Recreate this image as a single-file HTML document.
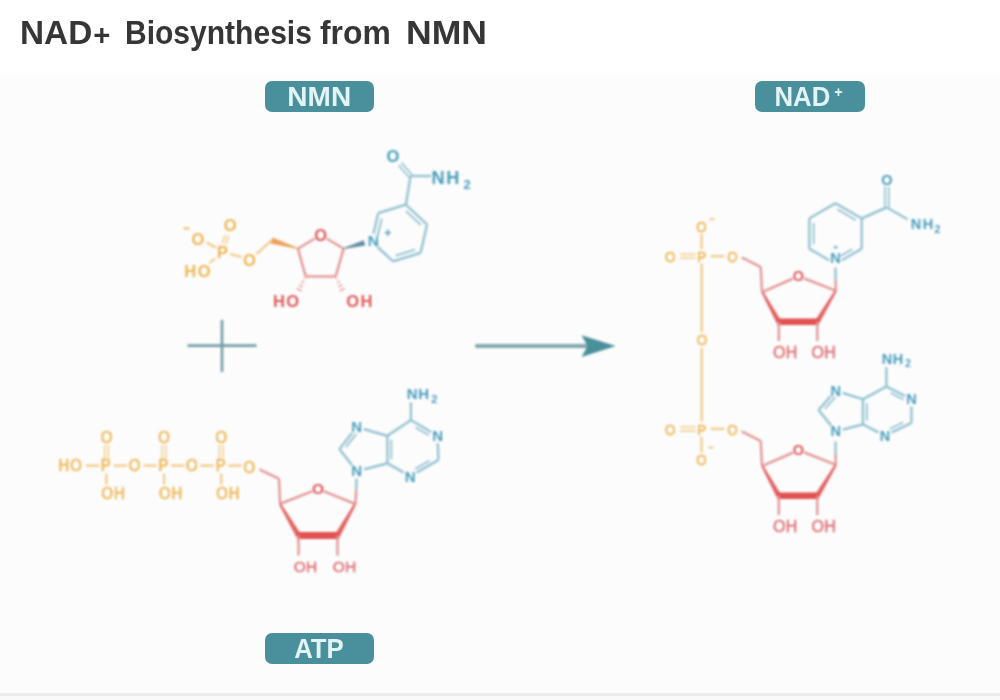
<!DOCTYPE html>
<html><head><meta charset="utf-8"><style>
html,body{margin:0;padding:0;width:1000px;height:700px;overflow:hidden;background:#fff}
body{position:relative;font-family:"Liberation Sans",sans-serif}
.tw{position:absolute;top:14.6px;font-size:33px;line-height:36px;font-weight:bold;color:#363636;white-space:nowrap;transform-origin:0 0;filter:blur(0.6px)}
.panel{position:absolute;left:0;top:70px;width:1000px;height:624px;background:linear-gradient(#fff 0px,#fcfcfc 8px,#fcfcfc)}
.below{position:absolute;left:0;top:694px;width:1000px;height:6px;background:#f9f9f9}
.foot{position:absolute;left:0;top:693px;width:1000px;height:2.5px;background:#ececed;filter:blur(0.5px)}
.pill{position:absolute;height:30.5px;width:109.5px;background:#4a8f9c;border-radius:7px;color:#e2f4f6;font-weight:bold;font-size:28px;text-align:center;line-height:31px;letter-spacing:0px;filter:blur(0.35px)}
svg{position:absolute;left:0;top:0}
svg text{font-family:"Liberation Sans",sans-serif}
</style></head><body>
<div class="panel"></div>
<div class="below"></div>
<div class="foot"></div>
<div class="tw" style="left:20.2px;transform:scaleX(1.01)">NAD<span style="position:relative;top:1.5px;font-size:29px;margin-left:1px">+</span></div><div class="tw" style="left:124.6px;transform:scaleX(0.91)">Biosynthesis</div><div class="tw" style="left:320.4px;transform:scaleX(0.965)">from</div><div class="tw" style="left:405.5px;transform:scaleX(1.077)">NMN</div>
<div class="pill" style="left:264.5px;top:81.2px">NMN</div>
<div class="pill" style="left:755px;top:81.2px"><span style="display:inline-block;transform:scaleX(0.92);margin-left:-5px">NAD</span><span style="display:inline-block;font-size:14px;vertical-align:9px;line-height:0;margin-left:1.5px;font-weight:bold">+</span></div>
<div class="pill" style="left:264.5px;top:633px"><span style="display:inline-block;transform:scaleX(0.92)">ATP</span></div>
<svg width="1000" height="700" viewBox="0 0 1000 700">
<defs><filter id="b" x="-5%" y="-5%" width="110%" height="110%"><feGaussianBlur stdDeviation="0.95"/></filter></defs>
<g filter="url(#b)">
<text x="197.8" y="244.5" fill="#efb552" font-size="16.5" font-weight="bold" text-anchor="middle">O</text>
<line x1="183.5" y1="228.5" x2="189.5" y2="228.5" stroke="#efb552" stroke-width="1.8"/>
<text x="230.2" y="230.5" fill="#efb552" font-size="16.5" font-weight="bold" text-anchor="middle">O</text>
<text x="222.4" y="257.5" fill="#efb552" font-size="16.5" font-weight="bold" text-anchor="middle">P</text>
<text x="198.2" y="276.5" fill="#efb552" font-size="16.5" font-weight="bold" text-anchor="middle" letter-spacing="1.5">HO</text>
<text x="249.4" y="266.0" fill="#efb552" font-size="16.5" font-weight="bold" text-anchor="middle">O</text>
<line x1="206.8" y1="242.6" x2="216.0" y2="247.8" stroke="#f2c983" stroke-width="2.25"/>
<line x1="225.7" y1="244.6" x2="228.7" y2="236.1" stroke="#f2c983" stroke-width="1.5"/>
<line x1="222.3" y1="243.4" x2="225.3" y2="234.9" stroke="#f2c983" stroke-width="1.5"/>
<line x1="215.0" y1="258.5" x2="209.6" y2="263.0" stroke="#f2c983" stroke-width="2.25"/>
<line x1="230.0" y1="254.0" x2="241.6" y2="257.0" stroke="#f2c983" stroke-width="2.25"/>
<line x1="256.5" y1="254.0" x2="271.5" y2="240.5" stroke="#f2c983" stroke-width="2.25"/>
<polygon points="298.0,248.1 272.5,237.4 270.5,243.6 297.8,249.1" fill="#eba05c"/>
<line x1="297.9" y1="248.6" x2="314.7" y2="238.6" stroke="#e39090" stroke-width="2.25"/>
<line x1="326.7" y1="238.6" x2="343.6" y2="248.6" stroke="#e39090" stroke-width="2.25"/>
<line x1="297.9" y1="248.6" x2="305.7" y2="276.4" stroke="#e39090" stroke-width="2.25"/>
<line x1="305.7" y1="276.4" x2="335.7" y2="276.4" stroke="#e39090" stroke-width="2.25"/>
<line x1="335.7" y1="276.4" x2="343.6" y2="248.6" stroke="#e39090" stroke-width="2.25"/>
<text x="320.7" y="240.5" fill="#e05a5c" font-size="16.5" font-weight="bold" text-anchor="middle">O</text>
<line x1="305.5" y1="278.6" x2="304.0" y2="277.9" stroke="#e39090" stroke-width="1.3"/>
<line x1="304.2" y1="282.7" x2="301.6" y2="281.4" stroke="#e39090" stroke-width="1.3"/>
<line x1="302.9" y1="286.7" x2="299.2" y2="284.9" stroke="#e39090" stroke-width="1.3"/>
<line x1="301.6" y1="290.8" x2="296.8" y2="288.4" stroke="#e39090" stroke-width="1.3"/>
<line x1="337.4" y1="277.9" x2="335.9" y2="278.6" stroke="#e39090" stroke-width="1.3"/>
<line x1="339.8" y1="281.4" x2="337.2" y2="282.7" stroke="#e39090" stroke-width="1.3"/>
<line x1="342.2" y1="284.9" x2="338.5" y2="286.7" stroke="#e39090" stroke-width="1.3"/>
<line x1="344.6" y1="288.4" x2="339.8" y2="290.8" stroke="#e39090" stroke-width="1.3"/>
<text x="286.8" y="307.2" fill="#e05a5c" font-size="16.5" font-weight="bold" text-anchor="middle" letter-spacing="1.5">HO</text>
<text x="360.1" y="307.2" fill="#e05a5c" font-size="16.5" font-weight="bold" text-anchor="middle" letter-spacing="1.5">OH</text>
<polygon points="343.7,249.1 365.2,245.4 363.8,240.2 343.5,248.1" fill="#5b8ca3"/>
<text x="373.3" y="246.3" fill="#4a9dbd" font-size="15.5" font-weight="bold" text-anchor="middle">N</text>
<text x="387.8" y="236.7" fill="#4a9dbd" font-size="13" font-weight="bold" text-anchor="middle">+</text>
<line x1="405.9" y1="204.7" x2="427.1" y2="224.5" stroke="#8dbfcf" stroke-width="2.25"/>
<line x1="427.1" y1="224.5" x2="420.6" y2="252.8" stroke="#8dbfcf" stroke-width="2.25"/>
<line x1="420.6" y1="252.8" x2="392.9" y2="261.3" stroke="#8dbfcf" stroke-width="2.25"/>
<line x1="392.9" y1="261.3" x2="377.5" y2="246.9" stroke="#8dbfcf" stroke-width="2.25"/>
<line x1="373.5" y1="233.7" x2="378.2" y2="213.2" stroke="#8dbfcf" stroke-width="2.25"/>
<line x1="378.2" y1="213.2" x2="405.9" y2="204.7" stroke="#8dbfcf" stroke-width="2.25"/>
<line x1="406.0" y1="211.1" x2="420.8" y2="224.9" stroke="#8dbfcf" stroke-width="1.8"/>
<line x1="415.1" y1="249.7" x2="395.7" y2="255.6" stroke="#8dbfcf" stroke-width="1.8"/>
<line x1="377.1" y1="238.3" x2="381.7" y2="218.5" stroke="#8dbfcf" stroke-width="1.8"/>
<line x1="405.9" y1="204.7" x2="410.5" y2="176.0" stroke="#8dbfcf" stroke-width="2.25"/>
<line x1="411.9" y1="174.7" x2="401.4" y2="162.7" stroke="#8dbfcf" stroke-width="1.6"/>
<line x1="409.1" y1="177.3" x2="398.6" y2="165.3" stroke="#8dbfcf" stroke-width="1.6"/>
<text x="393.0" y="161.6" fill="#4a9dbd" font-size="16.5" font-weight="bold" text-anchor="middle">O</text>
<line x1="410.5" y1="176.0" x2="431.0" y2="176.0" stroke="#8dbfcf" stroke-width="2.25"/>
<text x="431.5" y="184.0" fill="#4a9dbd" font-size="18.2" font-weight="bold" text-anchor="start" letter-spacing="1.6">NH</text>
<text x="467.0" y="188.9" fill="#4a9dbd" font-size="13" font-weight="bold" text-anchor="middle">2</text>
<line x1="187.5" y1="345.6" x2="256.5" y2="345.6" stroke="#6f9ca6" stroke-width="2.6"/>
<line x1="222.0" y1="320.0" x2="222.0" y2="372.0" stroke="#6f9ca6" stroke-width="2.6"/>
<line x1="475.3" y1="346.0" x2="588.0" y2="346.0" stroke="#80a7b0" stroke-width="4"/>
<polygon points="615.7,346.0 581.5,335.2 587.5,346.0 581.5,357.0" fill="#4a909a"/>
<text transform="translate(70.6,471.3) scale(0.9,1)" fill="#efb552" font-size="16.5" font-weight="normal" text-anchor="middle" stroke="#efb552" stroke-width="0.6" letter-spacing="1.0">HO</text>
<text transform="translate(105.8,471.3) scale(0.9,1)" fill="#efb552" font-size="16.5" font-weight="normal" text-anchor="middle" stroke="#efb552" stroke-width="0.6">P</text>
<text transform="translate(106.4,443.3) scale(0.9,1)" fill="#efb552" font-size="16.5" font-weight="normal" text-anchor="middle" stroke="#efb552" stroke-width="0.6">O</text>
<line x1="104.6" y1="444.8" x2="104.6" y2="458.6" stroke="#f2c983" stroke-width="1.4"/>
<line x1="108.2" y1="444.8" x2="108.2" y2="458.6" stroke="#f2c983" stroke-width="1.4"/>
<line x1="106.4" y1="473.6" x2="106.4" y2="484.6" stroke="#f2c983" stroke-width="2.25"/>
<text transform="translate(113.5,499.3) scale(0.9,1)" fill="#efb552" font-size="16.5" font-weight="normal" text-anchor="middle" stroke="#efb552" stroke-width="0.6" letter-spacing="1.0">OH</text>
<text transform="translate(163.4,471.3) scale(0.9,1)" fill="#efb552" font-size="16.5" font-weight="normal" text-anchor="middle" stroke="#efb552" stroke-width="0.6">P</text>
<text transform="translate(164.0,443.3) scale(0.9,1)" fill="#efb552" font-size="16.5" font-weight="normal" text-anchor="middle" stroke="#efb552" stroke-width="0.6">O</text>
<line x1="162.2" y1="444.8" x2="162.2" y2="458.6" stroke="#f2c983" stroke-width="1.4"/>
<line x1="165.8" y1="444.8" x2="165.8" y2="458.6" stroke="#f2c983" stroke-width="1.4"/>
<line x1="164.0" y1="473.6" x2="164.0" y2="484.6" stroke="#f2c983" stroke-width="2.25"/>
<text transform="translate(171.1,499.3) scale(0.9,1)" fill="#efb552" font-size="16.5" font-weight="normal" text-anchor="middle" stroke="#efb552" stroke-width="0.6" letter-spacing="1.0">OH</text>
<text transform="translate(220.6,471.3) scale(0.9,1)" fill="#efb552" font-size="16.5" font-weight="normal" text-anchor="middle" stroke="#efb552" stroke-width="0.6">P</text>
<text transform="translate(221.2,443.3) scale(0.9,1)" fill="#efb552" font-size="16.5" font-weight="normal" text-anchor="middle" stroke="#efb552" stroke-width="0.6">O</text>
<line x1="219.4" y1="444.8" x2="219.4" y2="458.6" stroke="#f2c983" stroke-width="1.4"/>
<line x1="223.0" y1="444.8" x2="223.0" y2="458.6" stroke="#f2c983" stroke-width="1.4"/>
<line x1="221.2" y1="473.6" x2="221.2" y2="484.6" stroke="#f2c983" stroke-width="2.25"/>
<text transform="translate(228.3,499.3) scale(0.9,1)" fill="#efb552" font-size="16.5" font-weight="normal" text-anchor="middle" stroke="#efb552" stroke-width="0.6" letter-spacing="1.0">OH</text>
<text transform="translate(134.6,471.3) scale(0.9,1)" fill="#efb552" font-size="16.5" font-weight="normal" text-anchor="middle" stroke="#efb552" stroke-width="0.6">O</text>
<text transform="translate(191.8,471.3) scale(0.9,1)" fill="#efb552" font-size="16.5" font-weight="normal" text-anchor="middle" stroke="#efb552" stroke-width="0.6">O</text>
<text transform="translate(249.3,472.9) scale(0.9,1)" fill="#efb552" font-size="16.5" font-weight="normal" text-anchor="middle" stroke="#efb552" stroke-width="0.6">O</text>
<line x1="86.0" y1="465.6" x2="99.2" y2="465.6" stroke="#f2c983" stroke-width="2.25"/>
<line x1="113.6" y1="465.6" x2="126.8" y2="465.6" stroke="#f2c983" stroke-width="2.25"/>
<line x1="143.6" y1="465.6" x2="156.8" y2="465.6" stroke="#f2c983" stroke-width="2.25"/>
<line x1="171.0" y1="465.6" x2="184.2" y2="465.6" stroke="#f2c983" stroke-width="2.25"/>
<line x1="200.4" y1="465.6" x2="213.6" y2="465.6" stroke="#f2c983" stroke-width="2.25"/>
<line x1="228.4" y1="465.6" x2="241.6" y2="465.6" stroke="#f2c983" stroke-width="2.25"/>
<line x1="259.5" y1="469.5" x2="279.0" y2="478.8" stroke="#e39090" stroke-width="2.25"/>
<line x1="279.0" y1="478.8" x2="280.0" y2="503.9" stroke="#e39090" stroke-width="2.25"/>
<line x1="280.0" y1="503.9" x2="312.4" y2="491.2" stroke="#e39090" stroke-width="2.25"/>
<line x1="323.6" y1="491.2" x2="355.1" y2="503.9" stroke="#e39090" stroke-width="2.25"/>
<text x="318.0" y="494.4" fill="#e05a5c" font-size="15.5" font-weight="bold" text-anchor="middle">O</text>
<polygon points="279.1,504.4 296.1,536.8 300.9,534.0 280.9,503.4" fill="#e36464"/>
<polygon points="354.2,503.4 335.1,534.0 339.9,536.8 356.0,504.4" fill="#e36464"/>
<line x1="296.8" y1="535.4" x2="339.2" y2="535.4" stroke="#e0514f" stroke-width="7"/>
<line x1="298.5" y1="535.4" x2="298.5" y2="555.5" stroke="#e39090" stroke-width="2.25"/>
<line x1="337.5" y1="535.4" x2="337.5" y2="555.5" stroke="#e39090" stroke-width="2.25"/>
<text x="305.6" y="572.0" fill="#df6f75" font-size="15.5" font-weight="normal" text-anchor="middle" stroke="#df6f75" stroke-width="0.45" letter-spacing="0.3">OH</text>
<text x="344.6" y="572.0" fill="#df6f75" font-size="15.5" font-weight="normal" text-anchor="middle" stroke="#df6f75" stroke-width="0.45" letter-spacing="0.3">OH</text>
<line x1="355.5" y1="503.9" x2="356.2" y2="490.0" stroke="#e39090" stroke-width="2.25"/>
<line x1="356.2" y1="490.0" x2="356.5" y2="478.5" stroke="#8dbfcf" stroke-width="2.25"/>
<line x1="352.1" y1="465.2" x2="339.4" y2="449.1" stroke="#8dbfcf" stroke-width="2.25"/>
<line x1="339.4" y1="449.1" x2="352.1" y2="433.0" stroke="#8dbfcf" stroke-width="2.25"/>
<line x1="345.9" y1="447.1" x2="356.3" y2="433.9" stroke="#8dbfcf" stroke-width="1.7"/>
<line x1="363.9" y1="429.1" x2="387.4" y2="435.8" stroke="#8dbfcf" stroke-width="2.25"/>
<line x1="387.4" y1="435.8" x2="387.4" y2="463.3" stroke="#8dbfcf" stroke-width="2.25"/>
<line x1="391.3" y1="439.9" x2="391.3" y2="459.2" stroke="#8dbfcf" stroke-width="1.7"/>
<line x1="387.4" y1="463.3" x2="364.0" y2="469.3" stroke="#8dbfcf" stroke-width="2.25"/>
<line x1="387.4" y1="463.3" x2="403.6" y2="472.6" stroke="#8dbfcf" stroke-width="2.25"/>
<line x1="416.6" y1="472.6" x2="438.4" y2="460.1" stroke="#8dbfcf" stroke-width="2.25"/>
<line x1="415.2" y1="468.9" x2="429.4" y2="460.8" stroke="#8dbfcf" stroke-width="1.7"/>
<line x1="438.4" y1="460.1" x2="437.8" y2="443.3" stroke="#8dbfcf" stroke-width="2.25"/>
<line x1="431.1" y1="432.0" x2="410.9" y2="420.1" stroke="#8dbfcf" stroke-width="2.25"/>
<line x1="428.9" y1="435.2" x2="415.6" y2="427.4" stroke="#8dbfcf" stroke-width="1.7"/>
<line x1="410.9" y1="420.1" x2="387.4" y2="435.8" stroke="#8dbfcf" stroke-width="2.25"/>
<line x1="410.9" y1="420.1" x2="410.9" y2="402.4" stroke="#8dbfcf" stroke-width="2.25"/>
<text x="356.7" y="476.3" fill="#4a9dbd" font-size="15" font-weight="bold" text-anchor="middle">N</text>
<text x="356.7" y="432.3" fill="#4a9dbd" font-size="15" font-weight="bold" text-anchor="middle">N</text>
<text x="410.1" y="481.5" fill="#4a9dbd" font-size="15" font-weight="bold" text-anchor="middle">N</text>
<text x="437.6" y="441.0" fill="#4a9dbd" font-size="15" font-weight="bold" text-anchor="middle">N</text>
<text x="418.3" y="399.4" fill="#4a9dbd" font-size="15" font-weight="bold" text-anchor="middle" letter-spacing="0.6">NH</text>
<text x="434.4" y="402.7" fill="#4a9dbd" font-size="11" font-weight="bold" text-anchor="middle">2</text>
<text transform="translate(670.2,262.0) scale(0.86,1)" fill="#efb552" font-size="15.5" font-weight="normal" text-anchor="middle" stroke="#efb552" stroke-width="0.55">O</text>
<line x1="680.1" y1="258.1" x2="695.7" y2="258.1" stroke="#f2c983" stroke-width="1.5"/>
<line x1="680.1" y1="254.3" x2="695.7" y2="254.3" stroke="#f2c983" stroke-width="1.5"/>
<text transform="translate(701.8,262.0) scale(0.86,1)" fill="#efb552" font-size="15.5" font-weight="normal" text-anchor="middle" stroke="#efb552" stroke-width="0.55">P</text>
<line x1="710.6" y1="256.2" x2="724.2" y2="256.2" stroke="#f2c983" stroke-width="2.25"/>
<text transform="translate(732.5,262.0) scale(0.86,1)" fill="#efb552" font-size="15.5" font-weight="normal" text-anchor="middle" stroke="#efb552" stroke-width="0.55">O</text>
<text transform="translate(701.5,232.1) scale(0.86,1)" fill="#efb552" font-size="15.5" font-weight="normal" text-anchor="middle" stroke="#efb552" stroke-width="0.55">O</text>
<line x1="701.5" y1="234.2" x2="701.5" y2="249.1" stroke="#f2c983" stroke-width="2.25"/>
<line x1="709.5" y1="219.2" x2="714.5" y2="219.2" stroke="#efb552" stroke-width="1.4"/>
<text transform="translate(670.2,434.7) scale(0.86,1)" fill="#efb552" font-size="15.5" font-weight="normal" text-anchor="middle" stroke="#efb552" stroke-width="0.55">O</text>
<line x1="680.1" y1="430.8" x2="695.7" y2="430.8" stroke="#f2c983" stroke-width="1.5"/>
<line x1="680.1" y1="427.0" x2="695.7" y2="427.0" stroke="#f2c983" stroke-width="1.5"/>
<text transform="translate(701.8,434.7) scale(0.86,1)" fill="#efb552" font-size="15.5" font-weight="normal" text-anchor="middle" stroke="#efb552" stroke-width="0.55">P</text>
<line x1="710.6" y1="428.9" x2="724.2" y2="428.9" stroke="#f2c983" stroke-width="2.25"/>
<text transform="translate(732.5,434.7) scale(0.86,1)" fill="#efb552" font-size="15.5" font-weight="normal" text-anchor="middle" stroke="#efb552" stroke-width="0.55">O</text>
<text transform="translate(701.5,465.4) scale(0.86,1)" fill="#efb552" font-size="15.5" font-weight="normal" text-anchor="middle" stroke="#efb552" stroke-width="0.55">O</text>
<line x1="701.5" y1="436.8" x2="701.5" y2="452.5" stroke="#f2c983" stroke-width="2.25"/>
<line x1="708.5" y1="447.5" x2="713.5" y2="447.5" stroke="#efb552" stroke-width="1.4"/>
<text transform="translate(701.9,344.7) scale(0.86,1)" fill="#efb552" font-size="15.5" font-weight="normal" text-anchor="middle" stroke="#efb552" stroke-width="0.55">O</text>
<line x1="701.7" y1="263.5" x2="701.7" y2="332.0" stroke="#f2c983" stroke-width="2.25"/>
<line x1="701.7" y1="348.0" x2="701.7" y2="421.5" stroke="#f2c983" stroke-width="2.25"/>
<line x1="741.8" y1="257.6" x2="760.7" y2="267.0" stroke="#e39090" stroke-width="2.25"/>
<line x1="760.7" y1="267.0" x2="762.0" y2="292.0" stroke="#e39090" stroke-width="2.25"/>
<line x1="762.3" y1="292.0" x2="793.0" y2="278.6" stroke="#e39090" stroke-width="2.25"/>
<line x1="804.1" y1="278.4" x2="835.8" y2="290.8" stroke="#e39090" stroke-width="2.25"/>
<text x="798.5" y="281.2" fill="#e05a5c" font-size="14.5" font-weight="bold" text-anchor="middle">O</text>
<polygon points="761.4,292.5 776.5,323.1 781.1,320.5 763.2,291.5" fill="#e36464"/>
<polygon points="834.9,290.3 815.1,320.5 819.5,323.1 836.7,291.3" fill="#e36464"/>
<line x1="777.2" y1="321.8" x2="818.9" y2="321.8" stroke="#e0514f" stroke-width="6.5"/>
<line x1="778.8" y1="321.8" x2="778.8" y2="341.0" stroke="#e39090" stroke-width="2.25"/>
<line x1="817.3" y1="321.8" x2="817.3" y2="341.0" stroke="#e39090" stroke-width="2.25"/>
<text x="785.4" y="357.5" fill="#df6f75" font-size="16" font-weight="normal" text-anchor="middle" stroke="#df6f75" stroke-width="0.45" letter-spacing="0.3">OH</text>
<text x="823.9" y="357.5" fill="#df6f75" font-size="16" font-weight="normal" text-anchor="middle" stroke="#df6f75" stroke-width="0.45" letter-spacing="0.3">OH</text>
<line x1="835.8" y1="290.8" x2="835.6" y2="280.0" stroke="#e39090" stroke-width="2.25"/>
<line x1="835.6" y1="280.0" x2="835.5" y2="267.5" stroke="#8dbfcf" stroke-width="2.25"/>
<line x1="741.8" y1="431.6" x2="760.7" y2="441.0" stroke="#e39090" stroke-width="2.25"/>
<line x1="760.7" y1="441.0" x2="762.0" y2="466.0" stroke="#e39090" stroke-width="2.25"/>
<line x1="762.3" y1="466.0" x2="793.0" y2="452.6" stroke="#e39090" stroke-width="2.25"/>
<line x1="804.1" y1="452.4" x2="835.8" y2="464.8" stroke="#e39090" stroke-width="2.25"/>
<text x="798.5" y="455.2" fill="#e05a5c" font-size="14.5" font-weight="bold" text-anchor="middle">O</text>
<polygon points="761.4,466.5 776.5,497.1 781.1,494.5 763.2,465.5" fill="#e36464"/>
<polygon points="834.9,464.3 815.1,494.5 819.5,497.1 836.7,465.3" fill="#e36464"/>
<line x1="777.2" y1="495.8" x2="818.9" y2="495.8" stroke="#e0514f" stroke-width="6.5"/>
<line x1="778.8" y1="495.8" x2="778.8" y2="515.0" stroke="#e39090" stroke-width="2.25"/>
<line x1="817.3" y1="495.8" x2="817.3" y2="515.0" stroke="#e39090" stroke-width="2.25"/>
<text x="785.4" y="531.5" fill="#df6f75" font-size="16" font-weight="normal" text-anchor="middle" stroke="#df6f75" stroke-width="0.45" letter-spacing="0.3">OH</text>
<text x="823.9" y="531.5" fill="#df6f75" font-size="16" font-weight="normal" text-anchor="middle" stroke="#df6f75" stroke-width="0.45" letter-spacing="0.3">OH</text>
<line x1="835.8" y1="464.8" x2="835.6" y2="454.0" stroke="#e39090" stroke-width="2.25"/>
<line x1="835.6" y1="454.0" x2="835.5" y2="441.5" stroke="#8dbfcf" stroke-width="2.25"/>
<line x1="835.5" y1="203.3" x2="861.7" y2="218.4" stroke="#8dbfcf" stroke-width="2.25"/>
<line x1="861.7" y1="218.4" x2="861.7" y2="248.8" stroke="#8dbfcf" stroke-width="2.25"/>
<line x1="861.7" y1="248.8" x2="841.6" y2="260.4" stroke="#8dbfcf" stroke-width="2.25"/>
<line x1="829.4" y1="260.4" x2="809.3" y2="248.8" stroke="#8dbfcf" stroke-width="2.25"/>
<line x1="809.3" y1="248.8" x2="809.3" y2="218.4" stroke="#8dbfcf" stroke-width="2.25"/>
<line x1="809.3" y1="218.4" x2="835.5" y2="203.3" stroke="#8dbfcf" stroke-width="2.25"/>
<line x1="837.3" y1="209.3" x2="855.7" y2="219.9" stroke="#8dbfcf" stroke-width="1.7"/>
<line x1="852.2" y1="249.3" x2="840.7" y2="255.9" stroke="#8dbfcf" stroke-width="1.7"/>
<line x1="813.6" y1="244.2" x2="813.6" y2="223.0" stroke="#8dbfcf" stroke-width="1.7"/>
<text x="835.6" y="262.5" fill="#4a9dbd" font-size="14.5" font-weight="bold" text-anchor="middle">N</text>
<text x="835.6" y="249.6" fill="#4a9dbd" font-size="8" font-weight="bold" text-anchor="middle">+</text>
<line x1="861.7" y1="218.4" x2="886.8" y2="207.4" stroke="#8dbfcf" stroke-width="2.25"/>
<line x1="888.7" y1="207.4" x2="888.7" y2="186.5" stroke="#8dbfcf" stroke-width="1.6"/>
<line x1="884.9" y1="207.4" x2="884.9" y2="186.5" stroke="#8dbfcf" stroke-width="1.6"/>
<text x="886.8" y="184.6" fill="#4a9dbd" font-size="14.5" font-weight="bold" text-anchor="middle">O</text>
<line x1="886.8" y1="207.4" x2="907.6" y2="219.4" stroke="#8dbfcf" stroke-width="2.25"/>
<text x="922.8" y="229.2" fill="#4a9dbd" font-size="14.5" font-weight="bold" text-anchor="middle" letter-spacing="1.5">NH</text>
<text x="937.5" y="232.5" fill="#4a9dbd" font-size="10.5" font-weight="bold" text-anchor="middle">2</text>
<line x1="831.2" y1="425.7" x2="818.6" y2="410.0" stroke="#8dbfcf" stroke-width="2.25"/>
<line x1="818.6" y1="410.0" x2="830.9" y2="396.1" stroke="#8dbfcf" stroke-width="2.25"/>
<line x1="824.9" y1="408.7" x2="835.2" y2="397.1" stroke="#8dbfcf" stroke-width="1.7"/>
<line x1="842.6" y1="392.9" x2="862.9" y2="399.3" stroke="#8dbfcf" stroke-width="2.25"/>
<line x1="862.9" y1="399.3" x2="862.9" y2="424.3" stroke="#8dbfcf" stroke-width="2.25"/>
<line x1="866.8" y1="403.1" x2="866.8" y2="420.6" stroke="#8dbfcf" stroke-width="1.7"/>
<line x1="862.9" y1="424.3" x2="842.7" y2="429.6" stroke="#8dbfcf" stroke-width="2.25"/>
<line x1="862.9" y1="424.3" x2="878.6" y2="432.4" stroke="#8dbfcf" stroke-width="2.25"/>
<line x1="891.5" y1="432.5" x2="911.4" y2="422.9" stroke="#8dbfcf" stroke-width="2.25"/>
<line x1="889.9" y1="429.0" x2="903.1" y2="422.6" stroke="#8dbfcf" stroke-width="1.7"/>
<line x1="911.4" y1="422.9" x2="911.4" y2="406.6" stroke="#8dbfcf" stroke-width="2.25"/>
<line x1="905.0" y1="396.0" x2="886.4" y2="386.4" stroke="#8dbfcf" stroke-width="2.25"/>
<line x1="903.4" y1="399.5" x2="890.9" y2="393.1" stroke="#8dbfcf" stroke-width="1.7"/>
<line x1="886.4" y1="386.4" x2="862.9" y2="399.3" stroke="#8dbfcf" stroke-width="2.25"/>
<line x1="886.4" y1="386.4" x2="886.4" y2="367.4" stroke="#8dbfcf" stroke-width="2.25"/>
<text x="835.7" y="436.4" fill="#4a9dbd" font-size="14.5" font-weight="bold" text-anchor="middle">N</text>
<text x="835.7" y="395.7" fill="#4a9dbd" font-size="14.5" font-weight="bold" text-anchor="middle">N</text>
<text x="885.0" y="440.7" fill="#4a9dbd" font-size="14.5" font-weight="bold" text-anchor="middle">N</text>
<text x="911.4" y="404.3" fill="#4a9dbd" font-size="14.5" font-weight="bold" text-anchor="middle">N</text>
<text x="892.8" y="364.4" fill="#4a9dbd" font-size="14.5" font-weight="bold" text-anchor="middle" letter-spacing="0.6">NH</text>
<text x="908.0" y="367.4" fill="#4a9dbd" font-size="10" font-weight="bold" text-anchor="middle">2</text>
</g>
</svg>
</body></html>
